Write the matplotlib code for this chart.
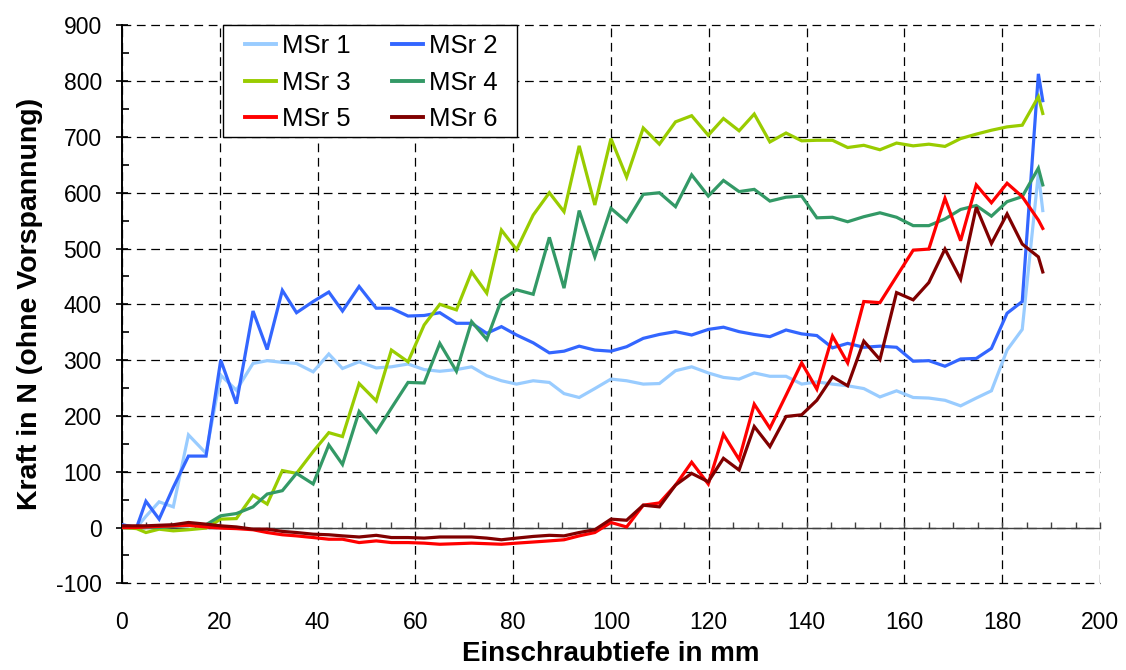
"""
Screw-in force curves MSr 1-6: Kraft vs Einschraubtiefe.
"""
import matplotlib
matplotlib.use("Agg")
import matplotlib.pyplot as plt
from matplotlib.patches import Rectangle
from matplotlib.ticker import MultipleLocator

plt.rcParams["font.family"] = ["Liberation Sans", "DejaVu Sans"]
plt.rcParams["axes.unicode_minus"] = False

# ── Data ──────────────────────────────────────────────────────────────────────
DEPTH = [0, 3.0, 4.9, 7.6, 10.5, 13.6, 17.2, 20.2, 23.4, 26.8,
         29.7, 32.8, 35.7, 39.1, 42.3, 45.1, 48.5, 52.0, 55.1, 58.5,
         61.8, 65.0, 68.4, 71.5, 74.6, 77.6, 80.7, 84.1, 87.4, 90.4,
         93.5, 96.7, 100.0, 103.2, 106.6, 109.9, 113.2, 116.5, 119.9, 123.0,
         126.2, 129.3, 132.5, 135.8, 139.0, 142.1, 145.3, 148.4, 151.7, 155.0,
         158.4, 161.8, 165.0, 168.3, 171.5, 174.7, 177.8, 181.0, 184.1, 187.4,
         188.3]

MSR1 = [5, 0, 20, 46, 37, 166, 133, 273, 246, 294,
        299, 296, 294, 279, 311, 285, 297, 286, 288, 293,
        283, 280, 283, 288, 272, 263, 257, 263, 260, 240,
        233, 249, 266, 263, 257, 258, 281, 288, 277, 269,
        266, 277, 271, 271, 257, 261, 257, 254, 249, 234,
        245, 233, 232, 228, 218, 232, 245, 318, 355, 635,
        568]

MSR2 = [5, 0, 47, 15, 72, 128, 128, 300, 222, 388,
        319, 425, 385, 405, 422, 388, 432, 393, 393, 379,
        380, 385, 366, 366, 348, 360, 345, 331, 313, 316,
        325, 318, 316, 324, 339, 346, 351, 345, 355, 359,
        351, 346, 342, 354, 347, 344, 322, 330, 323, 325,
        323, 298, 299, 289, 302, 303, 321, 384, 405, 813,
        765]

MSR3 = [0, -2, -9, -3, -6, -4, -1, 15, 16, 58,
        42, 102, 97, 136, 170, 163, 258, 227, 318, 297,
        363, 400, 390, 458, 420, 533, 498, 560, 600, 566,
        684, 578, 697, 628, 716, 687, 727, 738, 703, 733,
        711, 741, 691, 707, 693, 694, 694, 681, 685, 677,
        689, 684, 687, 683, 697, 705, 712, 718, 721, 772,
        742]

MSR4 = [0, 0, 0, 0, 2, 4, 5, 21, 25, 37,
        60, 66, 97, 78, 148, 113, 208, 171, 214, 260,
        259, 330, 280, 369, 337, 408, 426, 418, 520, 429,
        568, 485, 572, 548, 597, 600, 575, 632, 594, 622,
        602, 606, 585, 592, 594, 555, 556, 548, 557, 564,
        556, 541, 541, 553, 570, 577, 558, 584, 593, 644,
        614]

MSR5 = [0, 0, 1, 2, 3, 4, 1, -1, -2, -4,
        -9, -13, -15, -18, -21, -21, -27, -24, -27, -27,
        -28, -30, -29, -28, -29, -30, -28, -26, -24, -22,
        -15, -9, 9, 1, 40, 44, 76, 117, 78, 167,
        122, 221, 178, 237, 295, 248, 343, 295, 405, 403,
        450, 497, 499, 590, 514, 614, 582, 617, 593, 551,
        536]

MSR6 = [3, 3, 3, 4, 5, 9, 6, 3, 1, -3,
        -3, -7, -9, -12, -13, -15, -17, -14, -18, -18,
        -19, -17, -17, -17, -19, -22, -19, -16, -14, -15,
        -9, -4, 15, 13, 40, 37, 76, 97, 82, 124,
        103, 181, 145, 199, 202, 228, 270, 254, 334, 301,
        421, 408, 439, 499, 445, 574, 509, 562, 508, 485,
        458]

SERIES = [
    ("MSr 1", MSR1, "#99CCFF"),
    ("MSr 2", MSR2, "#3366FF"),
    ("MSr 3", MSR3, "#99CC00"),
    ("MSr 4", MSR4, "#339966"),
    ("MSr 5", MSR5, "#FF0000"),
    ("MSr 6", MSR6, "#800000"),
]

# ── Figure ────────────────────────────────────────────────────────────────────
fig = plt.figure(figsize=(11.26, 6.70), dpi=100)
ax = fig.add_axes([0.1083, 0.1294, 0.8686, 0.8328])

lines = {}
for name, vals, color in SERIES:
    (ln,) = ax.plot(DEPTH, vals, color=color, linewidth=2.3, label=name,
                    solid_joinstyle="miter", zorder=3)
    lines[name] = ln

ax.set_xlim(0, 200)
ax.set_ylim(-100, 900)

# grid: black dashed, on every major tick (also frames the plot area)
ax.xaxis.set_major_locator(MultipleLocator(20))
ax.xaxis.set_minor_locator(MultipleLocator(5))
ax.yaxis.set_major_locator(MultipleLocator(100))
ax.yaxis.set_minor_locator(MultipleLocator(50))
ax.grid(True, which="major", color="black", linewidth=0.9,
        linestyle=(0, (7, 4.5)), zorder=1)
for gl in ax.get_xgridlines() + ax.get_ygridlines():
    gl.set_clip_on(False)

for side in ["top", "right"]:
    ax.spines[side].set_visible(False)
ax.spines["left"].set_linewidth(1.4)

# x axis line crosses at 0 N, tick labels stay at the bottom
ax.spines["bottom"].set_position(("data", 0))
ax.spines["bottom"].set_color("#404040")
ax.spines["bottom"].set_linewidth(1.0)
ax.tick_params(axis="x", which="both", direction="in", length=4, width=1,
               color="#404040", labelbottom=False)

ax.tick_params(axis="y", which="major", direction="inout", length=9, width=1.2,
               labelsize=16.5, pad=10)
ax.tick_params(axis="y", which="minor", direction="in", length=5, width=1.2)

sec = ax.secondary_xaxis("bottom")
sec.set_xticks(range(0, 201, 20))
sec.tick_params(length=0, labelsize=16.5, pad=20)
sec.spines["bottom"].set_visible(False)
sec.set_xlabel("Einschraubtiefe in mm", fontsize=20, fontweight="bold",
               labelpad=5)

ax.set_ylabel("Kraft in N (ohne Vorspannung)", fontsize=20.5, fontweight="bold",
              labelpad=9)

# legend box drawn separately so the inner padding matches the original
ax.add_patch(Rectangle((0.103, 0.8004), 0.3006, 0.1996, transform=ax.transAxes,
                       facecolor="white", edgecolor="black", linewidth=1.0,
                       zorder=4, clip_on=False))
order = ["MSr 1", "MSr 3", "MSr 5", "MSr 2", "MSr 4", "MSr 6"]
leg = ax.legend([lines[n] for n in order], order, loc="upper left",
                bbox_to_anchor=(0.1258, 0.985), ncol=2, fontsize=18.5,
                frameon=False, handlelength=1.2, handletextpad=0.25,
                columnspacing=1.6, labelspacing=0.5, borderaxespad=0,
                borderpad=0)
leg.set_zorder(5)
for h in leg.get_lines():
    h.set_linewidth(2.8)

fig.savefig("out.png", dpi=100)
